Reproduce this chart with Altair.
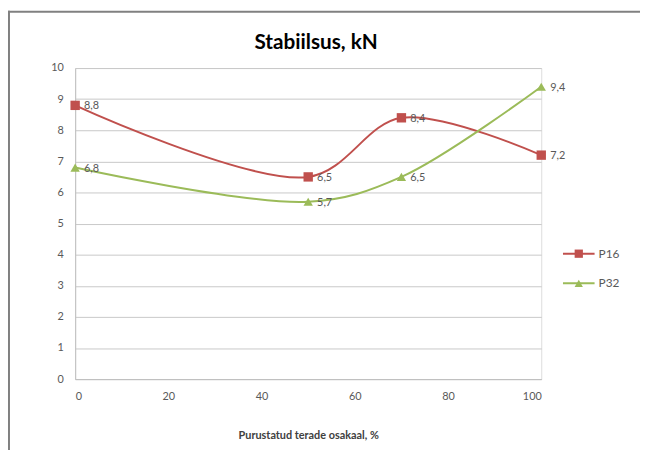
import altair as alt
import pandas as pd

x_vals = [0, 50, 70, 100]
p16 = [8.8, 6.5, 8.4, 7.2]
p32 = [6.8, 5.7, 6.5, 9.4]
series = ["P16", "P32"]
colors = ["#C0504D", "#9BBB59"]
marker_shapes = ["square", "triangle-up"]

rows = []
for s, vals in zip(series, [p16, p32]):
    for x, v in zip(x_vals, vals):
        rows.append({"x": x, "y": v, "s": s, "lab": f"{v:.1f}".replace(".", ",")})
df = pd.DataFrame(rows)
legend_df = pd.DataFrame({"s": series})

FONT = "Lato"
GRAY = "#595959"
cscale = alt.Scale(domain=series, range=colors)

xaxis = alt.Axis(values=[0, 20, 40, 60, 80, 100], title="Purustatud terade osakaal, %",
                 grid=False, ticks=False, labelPadding=12, labelFont=FONT,
                 labelFontSize=11, labelColor=GRAY, domainColor="#BFBFBF",
                 titleFont=FONT, titleFontSize=11, titleFontWeight="bold",
                 titleColor="#404040", titlePadding=28)
yaxis = alt.Axis(values=list(range(0, 11)), title=None, grid=True, labelOverlap=False,
                 gridColor="#C8C8C8", ticks=False, labelPadding=12,
                 labelFont=FONT, labelFontSize=11, labelColor=GRAY,
                 domainColor="#BFBFBF")
xenc = alt.X("x:Q", scale=alt.Scale(domain=[0, 100], nice=False), axis=xaxis)
yenc = alt.Y("y:Q", scale=alt.Scale(domain=[0, 10], nice=False), axis=yaxis)
col = alt.Color("s:N", scale=cscale, legend=None)

base = alt.Chart(df)
lines = base.mark_line(interpolate="catmull-rom", strokeWidth=2).encode(
    x=xenc, y=yenc, color=col, detail="s:N")
point_layers = []
for s, shp in zip(series, marker_shapes):
    point_layers.append(base.transform_filter(alt.datum.s == s).mark_point(
        filled=True, size=90, opacity=1, shape=shp).encode(x=xenc, y=yenc, color=col))
labels = base.mark_text(align="left", dx=9, dy=1, font=FONT, fontSize=11, color=GRAY).encode(
    x=xenc, y=yenc, text="lab:N")

# legend (drawn as a small key on its own point scale)
ly = alt.Y("s:N", scale=alt.Scale(type="point", domain=series, range=[188, 218], padding=0), axis=None)
lbase = alt.Chart(legend_df)
leg_lines = lbase.mark_rule(strokeWidth=2).encode(
    x=alt.value(494), x2=alt.value(526), y=ly, color=col)
leg_points = [lbase.transform_filter(alt.datum.s == s).mark_point(
    filled=True, size=70, opacity=1, shape=shp).encode(x=alt.value(510), y=ly, color=col)
    for s, shp in zip(series, marker_shapes)]
leg_text = lbase.mark_text(align="left", baseline="middle", font=FONT, fontSize=12,
                           color=GRAY).encode(x=alt.value(530), y=ly, text="s:N")
legend = alt.layer(leg_lines, *leg_points, leg_text)

frame_top = alt.Chart(pd.DataFrame({"a": [0]})).mark_rule(color="#808080", strokeWidth=2).encode(
    x=alt.value(-76), x2=alt.value(600), y=alt.value(-57))
frame_left = alt.Chart(pd.DataFrame({"a": [0]})).mark_rule(color="#808080", strokeWidth=2).encode(
    x=alt.value(-67), y=alt.value(-58), y2=alt.value(400))

main = alt.layer(frame_top, frame_left, lines, *point_layers, labels)

chart = alt.layer(main, legend).resolve_scale(y="independent").properties(
    width=472, height=315,
    title=alt.Title("Stabiilsus, kN", font=FONT, fontSize=21, fontWeight="bold",
                    color="#000000", anchor="middle", dx=8, offset=12, dy=56),
    autosize=alt.AutoSizeParams(type="none"),
    padding={"left": 68, "top": 58, "right": 100, "bottom": 69},
).configure_view(stroke=None).configure(background="white")

chart.save("out.html", embed_options={"renderer": "svg", "actions": False})
